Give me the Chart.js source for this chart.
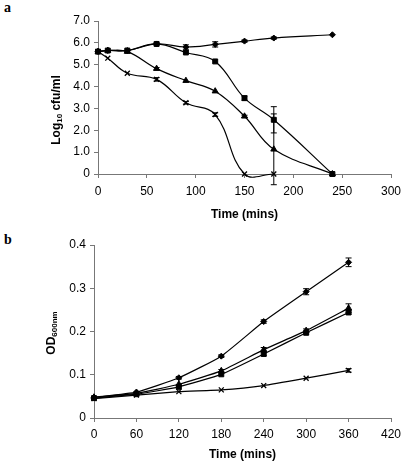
<!DOCTYPE html>
<html>
<head>
<meta charset="utf-8">
<script src="https://cdn.jsdelivr.net/npm/chart.js@4"></script>
<style>
  body { margin: 0; background: #fff; width: 401px; height: 462px; position: relative; overflow: hidden; }
  .panel { position: absolute; left: 0; width: 401px; }
  .lab { position: absolute; left: 4px; font: bold 14px "Liberation Serif", serif; color: #000; }
</style>
</head>
<body>
<div class="lab" style="top:0px">a</div>
<div class="lab" style="top:232px">b</div>
<div class="panel" style="top:0;height:222px"><canvas id="chartA"></canvas></div>
<div class="panel" style="top:231px;height:231px"><canvas id="chartB"></canvas></div>
<script>
// panel a: viable counts
const timesA = [0, 10, 30, 60, 90, 120, 150, 180, 240];
const diamondA = [5.6, 5.65, 5.65, 5.95, 5.81, 5.93, 6.08, 6.22, 6.37];
const squareA = [5.6, 5.65, 5.65, 5.95, 5.56, 5.15, 3.47, 2.48, 0];
const triangleA = [5.6, 5.65, 5.6, 4.82, 4.27, 3.79, 2.64, 1.13, 0];
const crossA = [5.6, 5.3, 4.61, 4.33, 3.26, 2.72, 0, 0];
const diamondErrA = [0, 0, 0, 0.05, 0.1, 0.12, 0.05, 0.05, 0];
const squareErrA = [0, 0, 0, 0, 0, 0, 0.1, 0.6, 0];
const triangleErrA = [0, 0, 0, 0.05, 0, 0, 0.05, 1.62, 0];
const crossErrA = [0, 0, 0, 0.08, 0.06, 0.08, 0, 0];
const xTicksA = [0, 50, 100, 150, 200, 250, 300];
const yTicksA = [0, 1, 2, 3, 4, 5, 6, 7];

// panel b: optical density
const timesB = [0, 60, 120, 180, 240, 300, 360];
const diamondB = [0.048, 0.06, 0.093, 0.143, 0.223, 0.292, 0.36];
const triangleB = [0.048, 0.057, 0.078, 0.109, 0.158, 0.202, 0.254];
const squareB = [0.046, 0.055, 0.072, 0.101, 0.148, 0.197, 0.244];
const crossB = [0.045, 0.053, 0.061, 0.065, 0.075, 0.092, 0.11];
const diamondErrB = [0, 0, 0.003, 0.003, 0.004, 0.007, 0.01];
const triangleErrB = [0, 0, 0, 0.003, 0.005, 0.004, 0.01];
const squareErrB = [0, 0, 0, 0, 0.004, 0.003, 0.004];
const crossErrB = [0, 0, 0, 0, 0, 0, 0.004];
const xTicksB = [0, 60, 120, 180, 240, 300, 360, 420];
const yTicksB = [0, 0.1, 0.2, 0.3, 0.4];

const FONT = '"Liberation Sans", Arial, sans-serif';
const AXIS = '#777';

function pts(times, vals) {
    return vals.map((v, i) => ({ x: times[i], y: v }));
}

function series(times, vals, errs, style, radius, tension) {
    return {
        data: pts(times, vals),
        errors: errs,
        borderColor: '#000',
        backgroundColor: '#000',
        borderWidth: 1.2,
        pointStyle: style,
        pointRadius: radius,
        pointBorderWidth: style === 'crossRot' ? 1.3 : 1,
        tension: tension,
        capBezierPoints: false,
        clip: false
    };
}

// error bars drawn from the chart's own scales
const errorBars = {
    id: 'errorBars',
    afterDatasetsDraw(chart) {
        const ctx = chart.ctx;
        const xs = chart.scales.x, ys = chart.scales.y;
        ctx.save();
        ctx.strokeStyle = '#000';
        ctx.lineWidth = 1;
        chart.data.datasets.forEach(ds => {
            (ds.errors || []).forEach((e, i) => {
                if (!e || !ds.data[i]) return;
                const x = xs.getPixelForValue(ds.data[i].x);
                const y1 = ys.getPixelForValue(ds.data[i].y + e);
                const y2 = ys.getPixelForValue(ds.data[i].y - e);
                ctx.beginPath();
                ctx.moveTo(x, y1); ctx.lineTo(x, y2);
                ctx.moveTo(x - 3, y1); ctx.lineTo(x + 3, y1);
                ctx.moveTo(x - 3, y2); ctx.lineTo(x + 3, y2);
                ctx.stroke();
            });
        });
        ctx.restore();
    }
};

// rotated y title with a subscript part
const yTitle = {
    id: 'yTitle',
    afterDraw(chart, args, opts) {
        const ctx = chart.ctx;
        const parts = opts.parts;
        ctx.save();
        ctx.fillStyle = '#000';
        let w = 0;
        parts.forEach(p => { ctx.font = 'bold ' + p.size + 'px ' + FONT; w += ctx.measureText(p.text).width; });
        ctx.translate(opts.x, opts.y);
        ctx.rotate(-Math.PI / 2);
        ctx.textBaseline = 'middle';
        ctx.textAlign = 'left';
        let cx = -w / 2;
        parts.forEach(p => {
            ctx.font = 'bold ' + p.size + 'px ' + FONT;
            ctx.fillText(p.text, cx, p.sub ? 3 : 0);
            cx += ctx.measureText(p.text).width;
        });
        ctx.restore();
    }
};

function makeChart(id, cfg) {
    return new Chart(document.getElementById(id), {
        type: 'line',
        data: { datasets: cfg.datasets },
        plugins: [errorBars, yTitle],
        options: {
            responsive: true,
            maintainAspectRatio: false,
            animation: false,
            layout: { padding: { top: cfg.top, right: 10, left: 0, bottom: 0 } },
            plugins: {
                legend: { display: false },
                tooltip: { enabled: false },
                yTitle: cfg.yTitle
            },
            scales: {
                x: {
                    type: 'linear',
                    min: cfg.xTicks[0],
                    max: cfg.xTicks[cfg.xTicks.length - 1],
                    afterBuildTicks: s => { s.ticks = cfg.xTicks.map(v => ({ value: v })); },
                    afterFit: s => { s.height = cfg.xHeight; s.paddingLeft = 0; s.paddingRight = 0; },
                    grid: { drawOnChartArea: false, drawTicks: true, tickLength: 4, color: AXIS },
                    border: { color: AXIS, width: 1 },
                    ticks: { color: '#000', font: { family: FONT, size: 12 }, padding: cfg.xPad, maxRotation: 0 },
                    title: { display: true, text: 'Time (mins)', color: '#000', font: { family: FONT, size: 12, weight: 'bold' }, padding: { top: 4, bottom: 0 } }
                },
                y: {
                    min: cfg.yTicks[0],
                    max: cfg.yTicks[cfg.yTicks.length - 1],
                    afterBuildTicks: s => { s.ticks = cfg.yTicks.map(v => ({ value: v })); },
                    afterFit: s => { s.width = cfg.yWidth; },
                    grid: { drawOnChartArea: false, drawTicks: true, tickLength: 4, color: AXIS },
                    border: { color: AXIS, width: 1 },
                    ticks: {
                        color: '#000', font: { family: FONT, size: 12 }, padding: 4,
                        callback: v => v === 0 ? '0' : v.toFixed(1)
                    }
                }
            }
        }
    });
}

makeChart('chartA', {
    datasets: [
        series(timesA, diamondA, diamondErrA, 'rectRot', 3, 0.4),
        series(timesA, squareA, squareErrA, 'rect', 3.5, 0.4),
        series(timesA, triangleA, triangleErrA, 'triangle', 3.5, 0.4),
        series(timesA, crossA, crossErrA, 'crossRot', 3.5, 0.4)
    ],
    xTicks: xTicksA, yTicks: yTicksA,
    top: 21, yWidth: 98, xHeight: 48, xPad: 6,
    yTitle: { x: 57, y: 110, parts: [{ text: 'Log', size: 12 }, { text: '10', size: 8, sub: true }, { text: ' cfu/ml', size: 12 }] }
});

makeChart('chartB', {
    datasets: [
        series(timesB, diamondB, diamondErrB, 'rectRot', 3, 0.15),
        series(timesB, triangleB, triangleErrB, 'triangle', 3.5, 0.15),
        series(timesB, squareB, squareErrB, 'rect', 3.5, 0.15),
        series(timesB, crossB, crossErrB, 'crossRot', 3.5, 0.15)
    ],
    xTicks: xTicksB, yTicks: yTicksB,
    top: 14, yWidth: 94, xHeight: 44, xPad: 5,
    yTitle: { x: 52, y: 102, parts: [{ text: 'OD', size: 12 }, { text: '600nm', size: 8, sub: true }] }
});
</script>
</body>
</html>
